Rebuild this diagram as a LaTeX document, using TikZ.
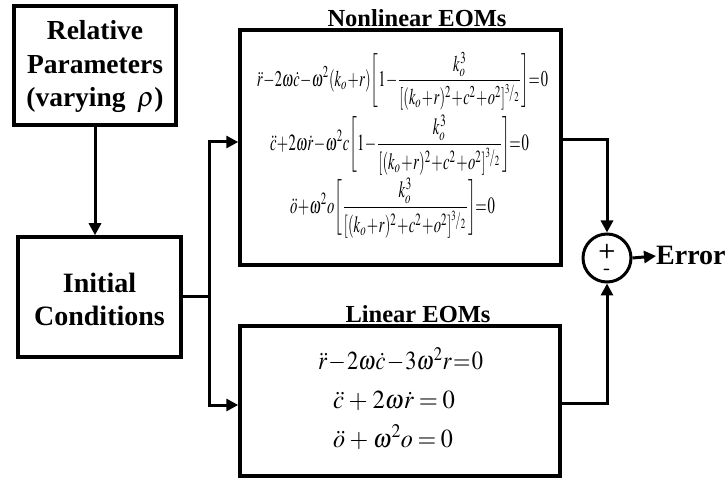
\documentclass[tikz,border=0pt]{standalone}
\usepackage{mathptmx}
\usepackage{fontspec}
\setmainfont{Liberation Serif}
\usepackage{graphicx}
\usetikzlibrary{arrows.meta}
\newcommand{\nlfrac}{\frac{k_o^{\;3}}{[(k_o+r)^2+c^2+o^2]^{{}^3\!/_2}}}
\newcommand{\tightmath}{\displaystyle\medmuskip=0.5mu\thickmuskip=1mu}
\newcommand{\lineq}[3]{\resizebox{#1}{\height}{\fontsize{26}{26}\selectfont$\medmuskip=#2mu\thickmuskip=#2mu #3$}}
\tikzset{
  blk/.style={draw,line width=3.5pt,rectangle,inner sep=0pt},
  conn/.style={line width=3pt},
  arr/.style={conn,-{Triangle[length=12pt,width=12pt]}},
  bigtxt/.style={font=\fontsize{28}{33}\selectfont\bfseries,align=center,inner sep=0pt},
  ttl/.style={font=\fontsize{24.5}{28}\selectfont\bfseries,anchor=base,inner sep=0pt},
  eqn/.style={inner sep=0pt},
}
\begin{document}
\begin{tikzpicture}[x=1pt,y=-1pt]
\useasboundingbox (0,0) rectangle (728,478);
% boxes
\node[blk,minimum width=162pt,minimum height=119pt] (rel) at (95,65.5) {};
\node[bigtxt,font=\fontsize{27.5}{33.5}\selectfont\bfseries] (reltxt) at (95,67) {Relative\\Parameters\\(varying \,$\rho$)};
\node[blk,minimum width=163pt,minimum height=120pt] (ic) at (99.5,297) {};
\node[bigtxt] (ictxt) at (99.5,299) {Initial\\Conditions};
\node[blk,minimum width=321pt,minimum height=235pt] (nl) at (400.5,147.5) {};
\node[ttl] (nlt) at (417,27) {Nonlinear EOMs};
\node[blk,minimum width=320pt,minimum height=150pt] (lin) at (400,401) {};
\node[ttl] (lint) at (418,322) {Linear EOMs};
% nonlinear equations
\node[eqn] (e1) at (402.5,81) {\resizebox*{291pt}{58pt}{$\tightmath\ddot r-2\omega\dot c-\omega^2(k_o+r)\!\left[1-\nlfrac\right]\!=0$}};
\node[eqn] (e2) at (399.5,145) {\resizebox*{259pt}{60pt}{$\tightmath\ddot c+2\omega\dot r-\omega^2c\!\left[1-\nlfrac\right]\!=0$}};
\node[eqn] (e3) at (392.5,208) {\resizebox*{205pt}{60pt}{$\tightmath\ddot o+\omega^2o\!\left[\nlfrac\right]\!=0$}};
% linear equations
\node[eqn,anchor=base] (l1) at (400.5,370) {\lineq{165pt}{1}{\ddot r-2\omega\dot c-3\omega^2r=0}};
\node[eqn,anchor=base] (l2) at (394,408) {\lineq{122pt}{3.5}{\ddot c+2\omega\dot r=0}};
\node[eqn,anchor=base] (l3) at (393,447) {\lineq{120pt}{3.5}{\ddot o+\omega^2o=0}};
% summing junction
\node[draw,circle,line width=3pt,minimum size=48pt,inner sep=0pt] (sum) at (607,258) {};
\node[inner sep=0pt,font=\fontsize{20}{20}\selectfont\sffamily\bfseries] (plus) at (607,252) {+};
\node[inner sep=0pt,font=\fontsize{20}{20}\selectfont\sffamily\bfseries] (minus) at (607,272) {-};
\node[anchor=base west,inner sep=0pt,font=\fontsize{28}{30}\selectfont\bfseries] (err) at (656,265) {Error};
% connectors
\coordinate (sp) at (209,297);
\draw[arr] (rel.south) -- (rel.south |- ic.north);
\draw[conn] (ic.east) -- (sp);
\draw[arr] (sp) |- ([yshift=5.5pt]nl.west);
\draw[arr] (sp) |- ([yshift=-4pt]lin.west);
\draw[arr] ([yshift=7.5pt]nl.east) -| (sum.north);
\draw[arr] ([yshift=-2pt]lin.east) -| (sum.south);
\draw[arr] (sum.east) -- (err.west);
\end{tikzpicture}
\end{document}
